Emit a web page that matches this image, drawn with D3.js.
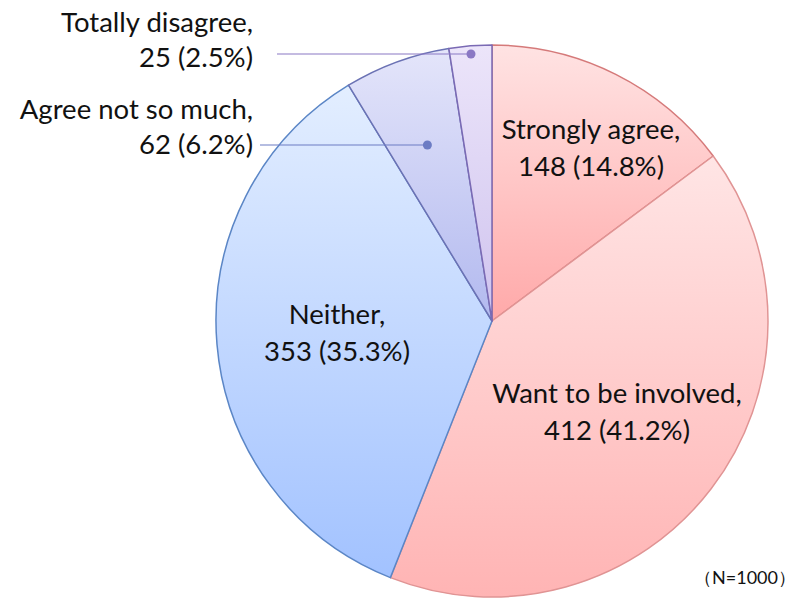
<!DOCTYPE html>
<html>
<head>
<meta charset="utf-8">
<script src="https://cdn.jsdelivr.net/npm/d3@7"></script>
<style>
  html, body { margin: 0; padding: 0; background: #fff; }
  svg { display: block; }
  text { font-family: Lato, "Open Sans", sans-serif; fill: #111; }
</style>
</head>
<body>
<svg id="chart" width="798" height="599"></svg>
<script>
// Survey answers, clockwise from 12 o'clock
const categories = ["Strongly agree", "Want to be involved", "Neither", "Agree not so much", "Totally disagree"];
const counts = [148, 412, 353, 62, 25];
const percents = ["14.8%", "41.2%", "35.3%", "6.2%", "2.5%"];
const sampleNote = "（N=1000）";

// Slice fills (top → bottom gradient) and outlines
const fillTop = ["#ffe3e3", "#ffe5e5", "#e3eeff", "#e4e5fa", "#ece5fa"];
const fillBottom = ["#ffa9a9", "#ffb4b4", "#a2c2ff", "#b2b9ef", "#cfc3ee"];
const strokes = ["#d57a7a", "#e09494", "#5b86c6", "#6b72b4", "#7a6ab4"];

const svg = d3.select("#chart");
const cx = 492, cy = 321, R = 276;
const labelSize = 27.5;

const defs = svg.append("defs");
categories.forEach((c, i) => {
  const g = defs.append("linearGradient")
    .attr("id", "grad" + i)
    .attr("x1", 0).attr("y1", 0).attr("x2", 0).attr("y2", 1);
  g.append("stop").attr("offset", "0%").attr("stop-color", fillTop[i]);
  g.append("stop").attr("offset", "100%").attr("stop-color", fillBottom[i]);
});

const pie = d3.pie().sort(null).value(d => d.count);
const data = categories.map((c, i) => ({ name: c, count: counts[i], pct: percents[i], i }));
const arcs = pie(data);
const arc = d3.arc().innerRadius(0).outerRadius(R);

const g = svg.append("g").attr("transform", `translate(${cx},${cy})`);
g.selectAll("path.slice")
  .data(arcs)
  .join("path")
  .attr("class", "slice")
  .attr("d", arc)
  .attr("fill", d => `url(#grad${d.data.i})`)
  .attr("stroke", d => strokes[d.data.i])
  .attr("stroke-width", 1.5)
  .attr("stroke-linejoin", "round");

// Inside labels: [index, x, baseline of first line]
const inside = [
  { i: 0, x: 591, y: 139 },
  { i: 1, x: 617, y: 403 },
  { i: 2, x: 337, y: 324 }
];
const lineGap = 37;
inside.forEach(l => {
  const d = data[l.i];
  const t = svg.append("text")
    .attr("text-anchor", "middle")
    .attr("font-size", labelSize);
  t.append("tspan").attr("x", l.x).attr("y", l.y).text(d.name + ",");
  t.append("tspan").attr("x", l.x).attr("y", l.y + lineGap).text(`${d.count} (${d.pct})`);
});

// Outside labels with leader lines to dots inside the thin slices
const outside = [
  { i: 4, x: 253, y: 32, lx: 277, ly: 54, color: "#8a78c4" },
  { i: 3, x: 253, y: 119, lx: 260, ly: 145, color: "#6c7cc4" }
];
outside.forEach(l => {
  const d = arcs[l.i];
  const mid = (d.startAngle + d.endAngle) / 2;
  // dot placed along the slice bisector at the height of the leader line
  const dy = l.ly - cy;
  const rr = -dy / Math.cos(mid);
  const px = cx + rr * Math.sin(mid);
  svg.append("line")
    .attr("x1", l.lx).attr("y1", l.ly)
    .attr("x2", px).attr("y2", l.ly)
    .attr("stroke", l.color).attr("stroke-width", 1.2);
  svg.append("circle")
    .attr("cx", px).attr("cy", l.ly).attr("r", 4.5)
    .attr("fill", l.color);
  const t = svg.append("text")
    .attr("text-anchor", "end")
    .attr("font-size", labelSize);
  t.append("tspan").attr("x", l.x).attr("y", l.y).text(data[l.i].name + ",");
  t.append("tspan").attr("x", l.x).attr("y", l.y + 35).text(`${data[l.i].count} (${data[l.i].pct})`);
});

svg.append("text")
  .attr("x", 796).attr("y", 584)
  .attr("text-anchor", "end")
  .attr("font-size", 18)
  .text(sampleNote);
</script>
</body>
</html>
